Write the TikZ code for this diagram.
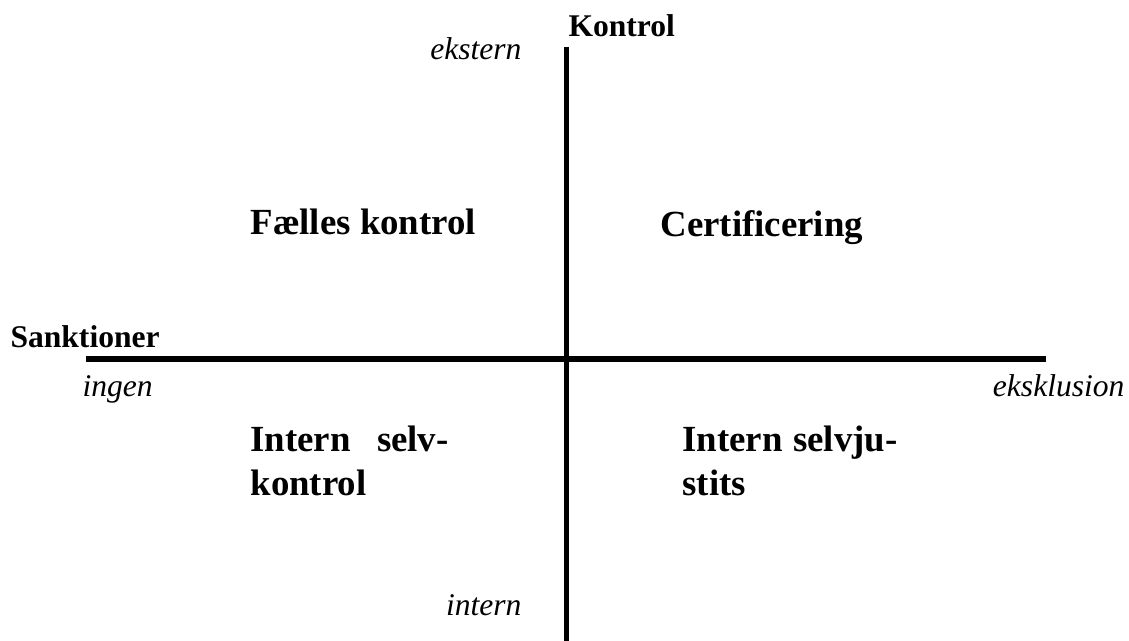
\documentclass[tikz,border=0pt]{standalone}
\usepackage{fontspec}
\setmainfont{Liberation Serif}

\begin{document}
\begin{tikzpicture}[x=0.38pt,y=-0.38pt,
  axislabel/.style={font=\fontsize{12}{14}\selectfont\bfseries,inner sep=0pt,anchor=base west},
  endlabel/.style={font=\fontsize{12}{14}\selectfont\itshape,inner sep=0pt},
  quadlabel/.style={font=\fontsize{14}{16}\selectfont\bfseries,inner sep=0pt,anchor=base west}]
\useasboundingbox (0,0) rectangle (1129,641);
% axes
\coordinate (top) at (566,47);
\coordinate (bottom) at (566,641);
\coordinate (left) at (86,359);
\coordinate (right) at (1046,359);
\draw [line width=1.9pt] (top)--(bottom);
\draw [line width=2.1pt] (left)--(right);

% axis names
\node (kontrol) [axislabel] at (568,37) {Kontrol};
\node (sanktioner) [axislabel] at (10,348) {Sanktioner};

% ends of the axes
\node (ekstern) [endlabel,anchor=base east] at (522,60) {ekstern};
\node (intern) [endlabel,anchor=base east] at (522,615) {intern};
\node (ingen) [endlabel,anchor=base west] at (82,396) {ingen};
\node (eksklusion) [endlabel,anchor=base east] at (1125,396) {eksklusion};

% quadrants
\node (faelles) [quadlabel] at (250,235) {Fælles kontrol};
\node (cert) [quadlabel] at (660,237) {Certificering};
\node (selvkontrol1) [quadlabel] at (250,451) {\makebox[75.3pt][s]{Intern selv-}};
\node (selvkontrol2) [quadlabel] at (250,495) {kontrol};
\node (selvjustits1) [quadlabel] at (682,451) {\makebox[81.7pt][s]{Intern selvju-}};
\node (selvjustits2) [quadlabel] at (682,495) {stits};
\end{tikzpicture}
\end{document}
